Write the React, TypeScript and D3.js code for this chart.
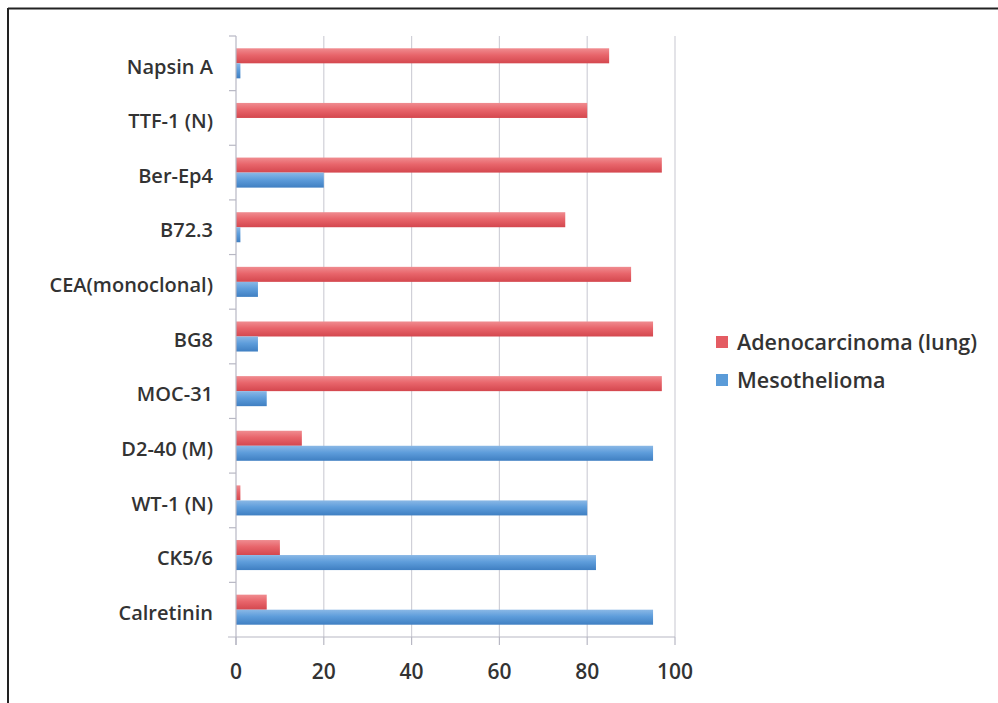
import * as d3 from "d3";

const categories = [
  "Napsin A",
  "TTF-1 (N)",
  "Ber-Ep4",
  "B72.3",
  "CEA(monoclonal)",
  "BG8",
  "MOC-31",
  "D2-40 (M)",
  "WT-1 (N)",
  "CK5/6",
  "Calretinin",
];
const adenocarcinoma = [85, 80, 97, 75, 90, 95, 97, 15, 1, 10, 7];
const mesothelioma = [1, 0, 20, 1, 5, 5, 7, 95, 80, 82, 95];
const seriesNames = ["Adenocarcinoma (lung)", "Mesothelioma"];
const xTicks = [0, 20, 40, 60, 80, 100];

const W = 998;
const H = 703;
const margin = { top: 36, left: 236, right: 323, bottom: 66 };
const font = "'Open Sans', 'DejaVu Sans', sans-serif";

const App = () => {
  const x = d3.scaleLinear().domain([0, 100]).range([margin.left, W - margin.right]);
  const y = d3
    .scaleBand<string>()
    .domain(categories)
    .range([margin.top, H - margin.bottom])
    .paddingInner(0.45)
    .paddingOuter(0.225);
  const sub = d3.scaleBand<number>().domain([0, 1]).range([0, y.bandwidth()]);
  const series = [adenocarcinoma, mesothelioma];
  const fills = ["url(#gRed)", "url(#gBlue)"];
  const swatch = ["#e45c63", "#5a9bd8"];
  const bottom = H - margin.bottom;
  const step = y.step();

  return (
    <svg width={W} height={H} style={{ position: "absolute", left: 0, top: 0, background: "#fff" }}>
      <defs>
        <linearGradient id="gRed" x1="0" y1="0" x2="0" y2="1">
          <stop offset="0" stopColor="#f08c90" />
          <stop offset="0.45" stopColor="#e8656b" />
          <stop offset="1" stopColor="#d4474e" />
        </linearGradient>
        <linearGradient id="gBlue" x1="0" y1="0" x2="0" y2="1">
          <stop offset="0" stopColor="#8ab8e6" />
          <stop offset="0.45" stopColor="#5e9ddb" />
          <stop offset="1" stopColor="#3f7fc2" />
        </linearGradient>
      </defs>
      {/* frame */}
      <line x1={8} x2={W} y1={8.5} y2={8.5} stroke="#222" strokeWidth={2} />
      <line x1={8} x2={8} y1={8} y2={H} stroke="#222" strokeWidth={2} />

      {/* gridlines */}
      {xTicks.slice(1).map((t) => (
        <line key={t} x1={x(t)} x2={x(t)} y1={margin.top} y2={bottom} stroke="#d0d0d8" strokeWidth={1.2} />
      ))}

      {/* bars */}
      {categories.map((c, i) =>
        series.map((s, k) =>
          s[i] > 0 ? (
            <rect
              key={c + k}
              x={x(0)}
              y={(y(c) ?? 0) + (sub(k) ?? 0)}
              width={x(s[i]) - x(0)}
              height={sub.bandwidth()}
              fill={fills[k]}
            />
          ) : null
        )
      )}

      {/* axes */}
      <line x1={x(0)} x2={x(0)} y1={margin.top} y2={bottom + 8} stroke="#b8b8c4" strokeWidth={1.2} />
      <line x1={x(0) - 8} x2={x(100)} y1={bottom} y2={bottom} stroke="#b8b8c4" strokeWidth={1.2} />
      {d3.range(categories.length).map((i) => (
        <line
          key={i}
          x1={x(0) - 7}
          x2={x(0)}
          y1={margin.top + i * step}
          y2={margin.top + i * step}
          stroke="#b8b8c4"
          strokeWidth={1.2}
        />
      ))}
      {xTicks.map((t) => (
        <g key={t}>
          <line x1={x(t)} x2={x(t)} y1={bottom} y2={bottom + 8} stroke="#b8b8c4" strokeWidth={1.2} />
          <text
            x={x(t)}
            y={bottom + 42}
            textAnchor="middle"
            fontFamily={font}
            fontSize={21}
            fontWeight={600}
            fill="#333"
          >
            {t}
          </text>
        </g>
      ))}
      {categories.map((c) => (
        <text
          key={c}
          x={213}
          y={(y(c) ?? 0) + y.bandwidth() / 2 + 3}
          dy="0.36em"
          textAnchor="end"
          fontFamily={font}
          fontSize={20}
          fontWeight={600}
          fill="#333"
        >
          {c}
        </text>
      ))}

      {/* legend */}
      {seriesNames.map((n, k) => (
        <g key={n} transform={`translate(716, ${342 + k * 38})`}>
          <rect x={0} y={-6} width={12} height={12} fill={swatch[k]} />
          <text x={21} y={0} dy="0.36em" fontFamily={font} fontSize={21.5} fontWeight={600} fill="#333">
            {n}
          </text>
        </g>
      ))}
    </svg>
  );
};

export default App;
